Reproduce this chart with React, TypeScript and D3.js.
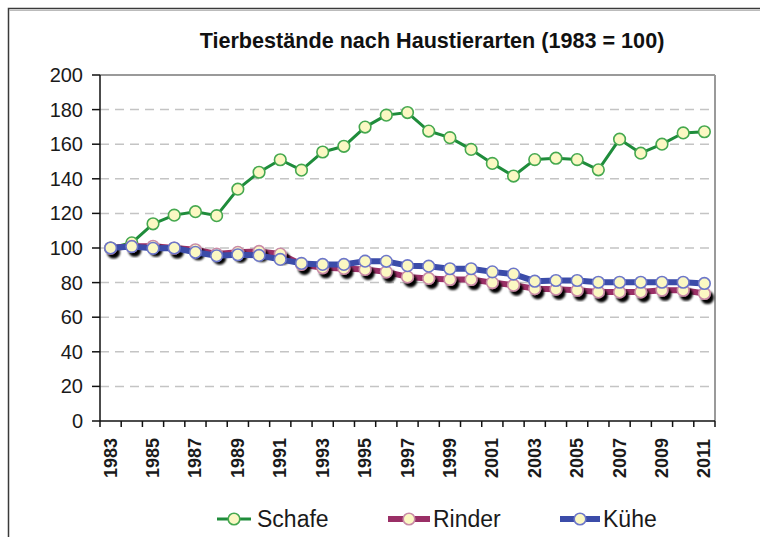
import React from "react";
import * as d3 from "d3";

const years = [
  "1983","1984","1985","1986","1987","1988","1989","1990","1991","1992",
  "1993","1994","1995","1996","1997","1998","1999","2000","2001","2002",
  "2003","2004","2005","2006","2007","2008","2009","2010","2011",
];
const schafe = [
  100, 103, 114, 119, 121, 118.7, 134, 143.8, 151, 145,
  155.5, 158.8, 169.9, 176.8, 178.3, 167.6, 163.8, 157, 148.9, 141.6,
  151.1, 151.9, 151.1, 145.2, 162.9, 154.8, 160, 166.5, 167.2,
];
const rinder = [
  100, 101, 101, 100, 99, 96.5, 97.5, 98, 96.5, 90.5,
  88.6, 88.2, 87.6, 86.2, 83.3, 82.4, 81.8, 81.8, 80, 78.5,
  76.5, 76.2, 75.6, 74.6, 74.6, 74.6, 75.6, 75.6, 73.7,
];
const kuehe = [
  100, 100.8, 99.8, 100, 97.5, 95.5, 96.1, 95.7, 93.4, 91.1,
  90.5, 90.5, 92.4, 92.3, 89.8, 89.5, 88, 88, 86.2, 84.9,
  80.8, 81.2, 81.2, 80.2, 80.2, 80.2, 80.2, 80.2, 79.5,
];
const yTicks = [0, 20, 40, 60, 80, 100, 120, 140, 160, 180, 200];
const seriesNames = ["Schafe", "Rinder", "Kühe"];
const title = "Tierbestände nach Haustierarten (1983 = 100)";

const W = 760;
const H = 537;
const left = 100;
const right = 715;
const top = 75;
const bottom = 421;

const series = [
  { name: seriesNames[0], values: schafe, color: "#1F8C3B", mStroke: "#45A84F", width: 3, shadow: false },
  { name: seriesNames[1], values: rinder, color: "#9A2F66", mStroke: "#C98BA6", width: 6, shadow: true },
  { name: seriesNames[2], values: kuehe, color: "#3B4CA9", mStroke: "#6C76C9", width: 6, shadow: false },
];
const markerFill = "#FBF8C3";

export default function App() {
  const x = d3.scaleBand<string>().domain(years).range([left, right]);
  const cx = (d: string) => (x(d) as number) + x.bandwidth() / 2;
  const y = d3.scaleLinear().domain([0, 200]).range([bottom, top]);
  const line = d3
    .line<number>()
    .x((_, i) => cx(years[i]))
    .y((v) => y(v));

  const boundaries = d3.range(years.length + 1).map((i) => left + i * x.bandwidth());
  const font = "'Liberation Sans', Arial, sans-serif";
  const legendItems = [
    { s: series[0], x0: 217, x1: 251, tx: 257 },
    { s: series[1], x0: 388, x1: 430, tx: 433 },
    { s: series[2], x0: 560, x1: 600, tx: 603 },
  ];

  return (
    <svg width={W} height={H} style={{ position: "absolute", left: 0, top: 0 }}>
      <defs>
        <filter id="shadow" x="-50%" y="-50%" width="200%" height="200%">
          <feDropShadow dx="3" dy="4" stdDeviation="1.2" floodColor="#000" floodOpacity="1" />
        </filter>
      </defs>
      <rect x={0} y={0} width={W} height={H} fill="#fff" />
      <rect x={8.5} y={8.5} width={W + 10} height={H + 10} fill="none" stroke="#3a3a3a" strokeWidth={1.5} />
      <line x1={9} x2={W} y1={10.5} y2={10.5} stroke="#bbb" strokeWidth={1} />

      <text x={432} y={48} textAnchor="middle" fontFamily={font} fontWeight="bold" fontSize={21.6} fill="#111">
        {title}
      </text>

      {/* gridlines */}
      {yTicks.filter((t) => t > 0 && t < 200).map((t) => (
        <line key={t} x1={left} x2={right} y1={y(t)} y2={y(t)} stroke="#c4c4c4" strokeWidth={1.5} strokeDasharray="9,6" />
      ))}
      {/* plot border top/right */}
      <line x1={left} x2={right} y1={top} y2={top} stroke="#9a9a9a" strokeWidth={2} />
      <line x1={right} x2={right} y1={top} y2={bottom} stroke="#9a9a9a" strokeWidth={2} />

      {/* y axis */}
      <line x1={left} x2={left} y1={top} y2={bottom} stroke="#111" strokeWidth={1.5} />
      {yTicks.map((t) => (
        <g key={t}>
          <line x1={left - 8} x2={left} y1={y(t)} y2={y(t)} stroke="#111" strokeWidth={1.5} />
          <text x={83} y={y(t)} dy="0.35em" textAnchor="end" fontFamily={font} fontSize={20} fill="#1a1a1a">
            {t}
          </text>
        </g>
      ))}

      {/* x axis */}
      <line x1={left} x2={right} y1={bottom} y2={bottom} stroke="#111" strokeWidth={1.5} />
      {boundaries.map((b, i) => (
        <line key={i} x1={b} x2={b} y1={bottom} y2={bottom + 6} stroke="#111" strokeWidth={1.5} />
      ))}
      {years.map((yr, i) =>
        i % 2 === 0 ? (
          <text
            key={yr}
            transform={`translate(${cx(yr) + 6},${478}) rotate(-90)`}
            fontFamily={font}
            fontWeight="bold"
            fontSize={18}
            fill="#1a1a1a"
          >
            {yr}
          </text>
        ) : null
      )}

      {/* series */}
      {series.map((s) => (
        <g key={s.name}>
          <path d={line(s.values) || ""} fill="none" stroke={s.color} strokeWidth={s.width} strokeLinejoin="round" />
          {s.values.map((v, i) => (
            <circle
              key={i}
              cx={cx(years[i])}
              cy={y(v)}
              r={5.8}
              fill={markerFill}
              stroke={s.mStroke}
              strokeWidth={1.6}
              filter={s.shadow ? "url(#shadow)" : undefined}
            />
          ))}
        </g>
      ))}

      {/* legend */}
      {legendItems.map(({ s, x0, x1, tx }) => (
        <g key={s.name}>
          <line x1={x0} x2={x1} y1={519} y2={519} stroke={s.color} strokeWidth={s.width} />
          <circle cx={(x0 + x1) / 2} cy={519} r={5.8} fill={markerFill} stroke={s.mStroke} strokeWidth={1.6} />
          <text x={tx} y={519} dy="0.36em" fontFamily={font} fontSize={23} fill="#1a1a1a">
            {s.name}
          </text>
        </g>
      ))}
    </svg>
  );
}
